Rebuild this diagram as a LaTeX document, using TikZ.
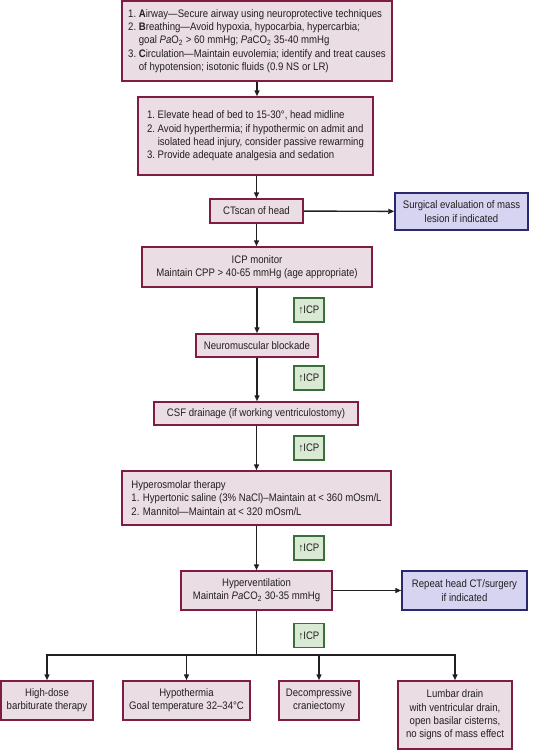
\documentclass[tikz,border=0pt]{standalone}
\usepackage{fontspec}
\setmainfont{Liberation Sans}[FakeStretch=0.88]
\usetikzlibrary{arrows.meta,positioning}

\definecolor{boxfill}{RGB}{234,221,227}
\definecolor{boxline}{RGB}{128,28,68}
\definecolor{sidefill}{RGB}{214,212,240}
\definecolor{sideline}{RGB}{42,40,110}
\definecolor{upfill}{RGB}{218,233,212}
\definecolor{upline}{RGB}{58,110,58}
\definecolor{ink}{RGB}{35,31,32}

\newcommand\boxfont{\fontsize{10.9}{13.3}\selectfont}
\newcommand\pao{\textit{Pa}O\textsubscript{2}}
\newcommand\paco{\textit{Pa}CO\textsubscript{2}}

\begin{document}
\begin{tikzpicture}[x=1pt, y=-1pt,
    box/.style={draw=boxline, fill=boxfill, line width=1.5pt, inner sep=2pt, align=center, font=\boxfont, text=ink},
    sbox/.style={box, draw=sideline, fill=sidefill},
    upbox/.style={draw=upline, fill=upfill, line width=1.3pt, inner sep=1pt, minimum width=30pt, minimum height=24pt, font=\boxfont, text=ink},
    arr/.style={-{Triangle[length=6pt, width=5pt]}, line width=1.4pt, draw=ink},
    lin/.style={line width=1.4pt, draw=ink}
]
\useasboundingbox (0,0) rectangle (533,750);

\node[box, align=left, minimum width=270pt, minimum height=80pt] (abc) at (257,41)
  {1.\ \textbf{A}irway—Secure airway using neuroprotective techniques\\
   2.\ \textbf{B}reathing—Avoid hypoxia, hypocarbia, hypercarbia;\\
   \phantom{2.\ }goal \pao{} > 60 mmHg; \paco{} 35-40 mmHg\\
   3.\ \textbf{C}irculation—Maintain euvolemia; identify and treat causes\\
   \phantom{3.\ }of hypotension; isotonic fluids (0.9 NS or LR)};
\node[box, align=left, minimum width=235pt, minimum height=78pt] (pos) at (255.5,136)
  {1.\ Elevate head of bed to 15-30°, head midline\\
   2.\ Avoid hyperthermia; if hypothermic on admit and\\
   \phantom{2.\ }isolated head injury, consider passive rewarming\\
   3.\ Provide adequate analgesia and sedation};
\node[box, minimum width=93pt, minimum height=24pt] (ct) at (256.5,211) {CTscan of head};
\node[sbox, minimum width=133pt, minimum height=37pt] (surg) at (461.5,211.5)
  {Surgical evaluation of mass\\lesion if indicated};
\node[box, minimum width=230pt, minimum height=40pt] (icp) at (257,267)
  {ICP monitor\\Maintain CPP > 40-65 mmHg (age appropriate)};
\node[upbox] (u1) at (309,310) {↑ICP};
\node[box, minimum width=122pt, minimum height=23pt] (nmb) at (257,345.5) {Neuromuscular blockade};
\node[upbox] (u2) at (309,378) {↑ICP};
\node[box, minimum width=204pt, minimum height=23pt] (csf) at (256,413.5)
  {CSF drainage (if working ventriculostomy)};
\node[upbox] (u3) at (309,448) {↑ICP};
\node[box, align=left, minimum width=269pt, minimum height=54pt] (hyp) at (256.5,498)
  {Hyperosmolar therapy\\
   1. Hypertonic saline (3\% NaCl)–Maintain at < 360 mOsm/L\\
   2. Mannitol—Maintain at < 320 mOsm/L};
\node[upbox] (u4) at (309,548) {↑ICP};
\node[box, minimum width=151pt, minimum height=39pt] (hv) at (256.5,590.5)
  {Hyperventilation\\Maintain \paco{} 30-35 mmHg};
\node[sbox, minimum width=125pt, minimum height=39pt] (rpt) at (464.5,590.5)
  {Repeat head CT/surgery\\if indicated};
\node[upbox] (u5) at (309,635.5) {↑ICP};
\coordinate (bus) at (256.5,655);

\node[box, minimum width=92pt, minimum height=39pt] (barb) at (47,700.5)
  {High-dose\\barbiturate therapy};
\node[box, minimum width=127pt, minimum height=39pt] (hypo) at (186.5,700.5)
  {Hypothermia\\Goal temperature 32–34°C};
\node[box, minimum width=80pt, minimum height=39pt] (dec) at (319,700.5)
  {Decompressive\\craniectomy};
\node[box, minimum width=114pt, minimum height=68pt] (lum) at (455,715)
  {Lumbar drain\\with ventricular drain,\\open basilar cisterns,\\no signs of mass effect};

\draw[arr] (abc) -- (abc |- pos.north);
\draw[arr] (pos.south -| ct) -- (ct);
\draw[arr] (ct) -- (surg);
\draw[arr] (ct) -- (ct |- icp.north);
\draw[arr] (icp) -- (nmb);
\draw[arr] (nmb) -- (nmb |- csf.north);
\draw[arr] (csf.south -| hyp) -- (hyp);
\draw[arr] (hyp) -- (hv);
\draw[arr] (hv) -- (rpt);
\draw[lin] (hv) -- (bus);
\draw[arr] (bus) -| (barb);
\draw[arr] (bus) -| (hypo);
\draw[arr] (bus) -| (dec);
\draw[arr] (bus) -| (lum);
\end{tikzpicture}
\end{document}
